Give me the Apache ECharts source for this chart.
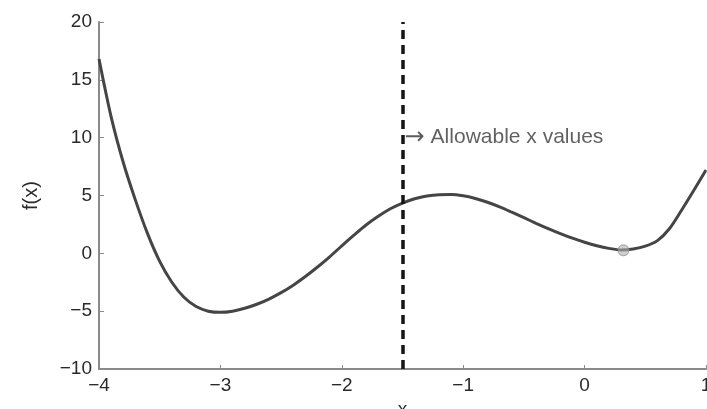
<!DOCTYPE html>
<html>
<head>
<meta charset="utf-8">
<style>
  html, body { margin: 0; padding: 0; background: #fff; }
  #chart { width: 707px; height: 409px; }
</style>
<script src="https://cdn.jsdelivr.net/npm/echarts@6/dist/echarts.min.js"></script>
</head>
<body>
<div id="chart"></div>
<script>
// Sampled points of f(x) across the plotted range (step 0.1)
const xVals = [-4.0, -3.9, -3.8, -3.7, -3.6, -3.5, -3.4, -3.3, -3.2, -3.1,
               -3.0, -2.9, -2.8, -2.7, -2.6, -2.5, -2.4, -2.3, -2.2, -2.1,
               -2.0, -1.9, -1.8, -1.7, -1.6, -1.5, -1.4, -1.3, -1.2, -1.1,
               -1.0, -0.9, -0.8, -0.7, -0.6, -0.5, -0.4, -0.3, -0.2, -0.1,
                0.0,  0.1,  0.2,  0.3,  0.4,  0.5,  0.6,  0.7,  0.8,  0.9, 1.0];
const yVals = [16.8, 11.8, 7.85, 4.6, 1.7, -0.7, -2.5, -3.8, -4.6, -5.0,
               -5.1, -5.0, -4.75, -4.4, -3.95, -3.4, -2.75, -2.0, -1.18, -0.3,
                0.65, 1.57, 2.45, 3.2, 3.85, 4.35, 4.72, 4.96, 5.07, 5.08,
                4.97, 4.74, 4.42, 4.02, 3.56, 3.08, 2.6, 2.14, 1.71, 1.31,
                0.96, 0.66, 0.43, 0.29, 0.38, 0.62, 1.1, 2.15, 3.75, 5.45, 7.2];

// Local minimum marked with a circle
const minPoint = [0.32, 0.26];

// Boundary of the allowable region and its note
const boundaryX = -1.5;
const noteY = 10;
const noteText = 'Allowable x values';

// Axis ranges and ticks
const xTicks = [-4, -3, -2, -1, 0, 1];
const yTicks = [-10, -5, 0, 5, 10, 15, 20];

const minus = v => String(v).replace('-', '\u2212');
const font = 'Liberation Sans, Arial, Helvetica, sans-serif';
const axisGray = '#8a8a8a';
const textGray = '#2a2a2a';

const chart = echarts.init(document.getElementById('chart'), null, { renderer: 'canvas' });

chart.setOption({
  animation: false,
  backgroundColor: '#fff',
  grid: { left: 99, right: 1, top: 22, bottom: 40, containLabel: false, outerBoundsMode: 'none' },
  xAxis: {
    type: 'value',
    min: xTicks[0],
    max: xTicks[xTicks.length - 1],
    interval: 1,
    name: 'x',
    nameLocation: 'middle',
    nameGap: 29,
    nameTextStyle: { fontFamily: font, fontSize: 19, color: textGray },
    axisLine: { show: true, onZero: false, lineStyle: { color: axisGray, width: 2 } },
    axisTick: { show: true, inside: true, length: 4, lineStyle: { color: axisGray, width: 1 } },
    axisLabel: { fontFamily: font, fontSize: 19, color: textGray, margin: 7, formatter: minus },
    splitLine: { show: false }
  },
  yAxis: {
    type: 'value',
    min: yTicks[0],
    max: yTicks[yTicks.length - 1],
    interval: 5,
    name: 'f(x)',
    nameLocation: 'middle',
    nameGap: 58,
    nameRotate: 90,
    nameTextStyle: { fontFamily: font, fontSize: 20, color: textGray },
    axisLine: { show: true, onZero: false, lineStyle: { color: axisGray, width: 2 } },
    axisTick: { show: true, inside: true, length: 5, lineStyle: { color: axisGray, width: 1 } },
    axisLabel: { fontFamily: font, fontSize: 19, color: textGray, margin: 7, formatter: minus },
    splitLine: { show: false }
  },
  series: [
    {
      name: 'f(x)',
      type: 'line',
      data: xVals.map((x, i) => [x, yVals[i]]),
      smooth: 0.3,
      showSymbol: false,
      lineStyle: { color: '#454545', width: 3 },
      z: 3,
      markLine: {
        silent: true,
        symbol: 'none',
        label: { show: false },
        lineStyle: { color: '#151515', width: 3.5, type: [9, 6] },
        data: [{ xAxis: boundaryX }]
      }
    },
    {
      name: 'minimum',
      type: 'scatter',
      data: [minPoint],
      symbol: 'circle',
      symbolSize: 11,
      itemStyle: { color: 'rgba(175,175,175,0.75)', borderColor: '#8c8c8c', borderWidth: 1 },
      z: 4
    },
    {
      name: 'note',
      type: 'scatter',
      data: [[boundaryX, noteY]],
      symbolSize: 0,
      silent: true,
      label: {
        show: true,
        position: 'right',
        distance: 2,
        formatter: '{a|\u2192}{b|' + noteText + '}',
        rich: {
          a: { fontFamily: 'DejaVu Sans, sans-serif', fontSize: 24, color: '#333', padding: [0, 6, 0, 0] },
          b: { fontFamily: font, fontSize: 21, color: '#3a3a3a' }
        }
      },
      z: 5
    }
  ]
});
</script>
</body>
</html>
